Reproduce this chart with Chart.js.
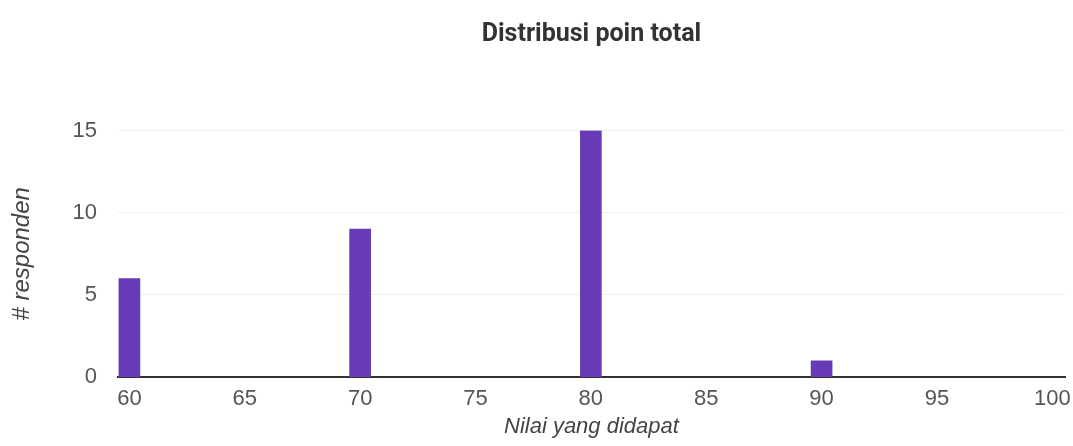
<!DOCTYPE html>
<html>
<head>
<meta charset="utf-8">
<title>Distribusi poin total</title>
<script src="https://cdn.jsdelivr.net/npm/chart.js@4/dist/chart.umd.min.js"></script>
<style>
  html, body { margin: 0; padding: 0; background: #ffffff; }
  #wrap { width: 1073px; height: 446px; position: relative; }
</style>
</head>
<body>
<div id="wrap"><canvas id="chart"></canvas></div>
<script>
// Score buckets and how many respondents landed in each
const scores = [60, 70, 80, 90];
const respondents = [6, 9, 15, 1];

// Axis tick labels
const xTicks = [60, 65, 70, 75, 80, 85, 90, 95, 100];
const yTicks = [0, 5, 10, 15];

const chartTitle = 'Distribusi poin total';
const xTitle = 'Nilai yang didapat';
const yTitle = '# responden';

const points = scores.map((s, i) => ({ x: s, y: respondents[i] }));

const labelFont = '"Liberation Sans", Arial, sans-serif';

new Chart(document.getElementById('chart'), {
  type: 'bar',
  data: {
    datasets: [{
      data: points,
      backgroundColor: '#673ab7',
      borderWidth: 0,
      barThickness: 21
    }]
  },
  options: {
    responsive: true,
    maintainAspectRatio: false,
    devicePixelRatio: 1,
    animation: false,
    layout: { padding: { left: 0, right: 8, top: 0, bottom: 0 } },
    plugins: {
      legend: { display: false },
      tooltip: { enabled: false },
      title: {
        display: true,
        text: chartTitle,
        fullSize: false,
        color: '#333333',
        font: { family: 'Roboto', size: 25, weight: 'bold' },
        padding: { top: 20, bottom: 80.5 }
      }
    },
    scales: {
      x: {
        type: 'linear',
        offset: false,
        min: 59.5,
        max: 100.55,
        afterBuildTicks: (scale) => { scale.ticks = xTicks.map(v => ({ value: v })); },
        // the "100" label may hang a little past the plot edge
        afterFit: (scale) => { scale.paddingRight = 0; },
        grid: { display: false, drawTicks: false },
        border: { display: true, color: '#333333', width: 2 },
        ticks: {
          padding: 9,
          color: '#555555',
          font: { family: labelFont, size: 22 }
        },
        title: {
          display: true,
          text: xTitle,
          color: '#444444',
          font: { family: labelFont, size: 22, style: 'italic' },
          padding: { top: -8, bottom: 6 }
        }
      },
      y: {
        min: 0,
        max: 15,
        afterBuildTicks: (scale) => { scale.ticks = yTicks.map(v => ({ value: v })); },
        grid: { color: '#efefef', lineWidth: 1, drawTicks: false },
        border: { display: false },
        ticks: {
          padding: 21,
          color: '#555555',
          font: { family: labelFont, size: 22 }
        },
        title: {
          display: true,
          text: yTitle,
          color: '#444444',
          font: { family: labelFont, size: 24, style: 'italic' },
          padding: { top: 7.6, bottom: 15 }
        }
      }
    }
  }
});
</script>
</body>
</html>
